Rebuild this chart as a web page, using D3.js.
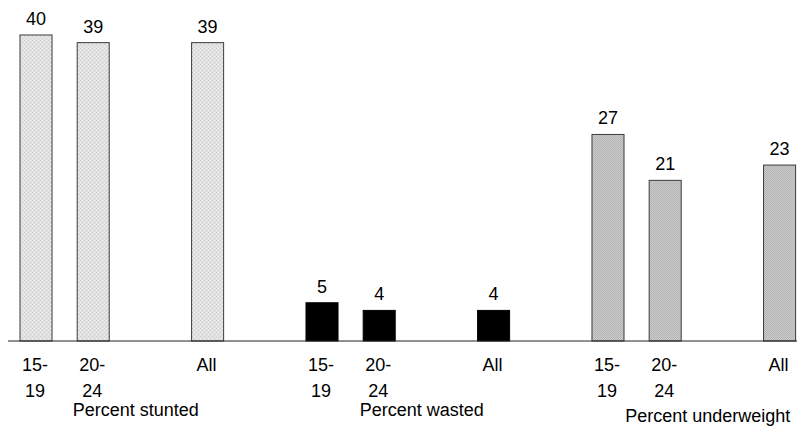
<!DOCTYPE html>
<html>
<head>
<meta charset="utf-8">
<script src="https://cdn.jsdelivr.net/npm/d3@7"></script>
<style>
  html, body { margin: 0; padding: 0; background: #fff; }
  svg { display: block; }
  text { font-family: "Liberation Sans", Arial, sans-serif; fill: #000; }
</style>
</head>
<body>
<div id="chart"></div>
<script>
// Nutritional status of children by mother's age
const indicators = ["Percent stunted", "Percent wasted", "Percent underweight"];
const ageGroups = ["15-19", "20-24", "All"];
const ageLabelLines = [["15-", "19"], ["20-", "24"], ["All"]];
const stunted = [40, 39, 39];
const wasted = [5, 4, 4];
const underweight = [27, 21, 23];
const seriesValues = [stunted, wasted, underweight];

const width = 797, height = 428;
const baseY = 341;

const svg = d3.select("#chart").append("svg")
  .attr("width", width).attr("height", height);

// Fill patterns: light dotted grey, solid black, darker dotted grey
const defs = svg.append("defs");
function dotPattern(id, size, bg, dots) {
  const p = defs.append("pattern").attr("id", id)
    .attr("patternUnits", "userSpaceOnUse").attr("width", size).attr("height", size);
  p.append("rect").attr("width", size).attr("height", size).attr("fill", bg);
  dots.forEach(([dx, dy, c]) => {
    p.append("rect").attr("x", dx).attr("y", dy).attr("width", 1).attr("height", 1).attr("fill", c);
  });
}
dotPattern("fillLight", 4, "#e1e1e1", [[0, 0, "#cdcdcd"], [2, 2, "#cdcdcd"], [2, 0, "#efefef"], [0, 2, "#efefef"]]);
dotPattern("fillDark", 2, "#cbcbcb", [[0, 0, "#b4b4b4"], [1, 1, "#b4b4b4"]]);
const fills = ["url(#fillLight)", "#000", "url(#fillDark)"];

// Each indicator takes five slots; bars sit in slots 0, 1 and 3 of its block
const slotOffsets = [0, 1, 3];
const slotsPerGroup = 5;
const x = d3.scaleBand()
  .domain(d3.range(slotsPerGroup * indicators.length - 1))
  .range([20, 795.6])
  .paddingInner(0.44)
  .paddingOuter(0);

const y = d3.scaleLinear().domain([0, 40]).range([baseY, 35]);

const rows = [];
indicators.forEach((ind, g) => {
  ageGroups.forEach((age, j) => {
    rows.push({
      indicator: ind, g, age, j,
      slot: g * slotsPerGroup + slotOffsets[j],
      value: seriesValues[g][j]
    });
  });
});

// Bars
svg.append("g").selectAll("rect").data(rows).join("rect")
  .attr("x", d => x(d.slot))
  .attr("y", d => y(d.value))
  .attr("width", x.bandwidth())
  .attr("height", d => y(0) - y(d.value))
  .attr("fill", d => fills[d.g])
  .attr("stroke", d => d.g === 1 ? "#000" : "#3a3a3a")
  .attr("stroke-width", 1);

// Value labels
svg.append("g").selectAll("text").data(rows).join("text")
  .attr("x", d => x(d.slot) + x.bandwidth() / 2)
  .attr("y", d => y(d.value) - 10)
  .attr("text-anchor", "middle")
  .attr("font-size", 18)
  .text(d => d.value);

// Baseline
svg.append("line")
  .attr("x1", 8).attr("x2", width)
  .attr("y1", y(0)).attr("y2", y(0))
  .attr("stroke", "#222").attr("stroke-width", 1);

// Age group labels (two lines)
const catG = svg.append("g");
rows.forEach(d => {
  const t = catG.append("text")
    .attr("text-anchor", "middle")
    .attr("font-size", 18)
    .attr("transform", `translate(${x(d.slot) + x.bandwidth() / 2 - 1},${y(0) + 30})`);
  ageLabelLines[d.j].forEach((line, k) => {
    t.append("tspan").attr("x", 0).attr("y", k * 26).text(line);
  });
});

// Indicator labels
const groupLabelDy = [75, 75, 81];
svg.append("g").selectAll("text").data(indicators).join("text")
  .attr("x", (d, g) => {
    const first = x(g * slotsPerGroup + slotOffsets[0]);
    const last = x(g * slotsPerGroup + slotOffsets[2]) + x.bandwidth();
    return (first + last) / 2 + 14;
  })
  .attr("y", (d, g) => y(0) + groupLabelDy[g])
  .attr("text-anchor", "middle")
  .attr("font-size", 18)
  .text(d => d);
</script>
</body>
</html>
